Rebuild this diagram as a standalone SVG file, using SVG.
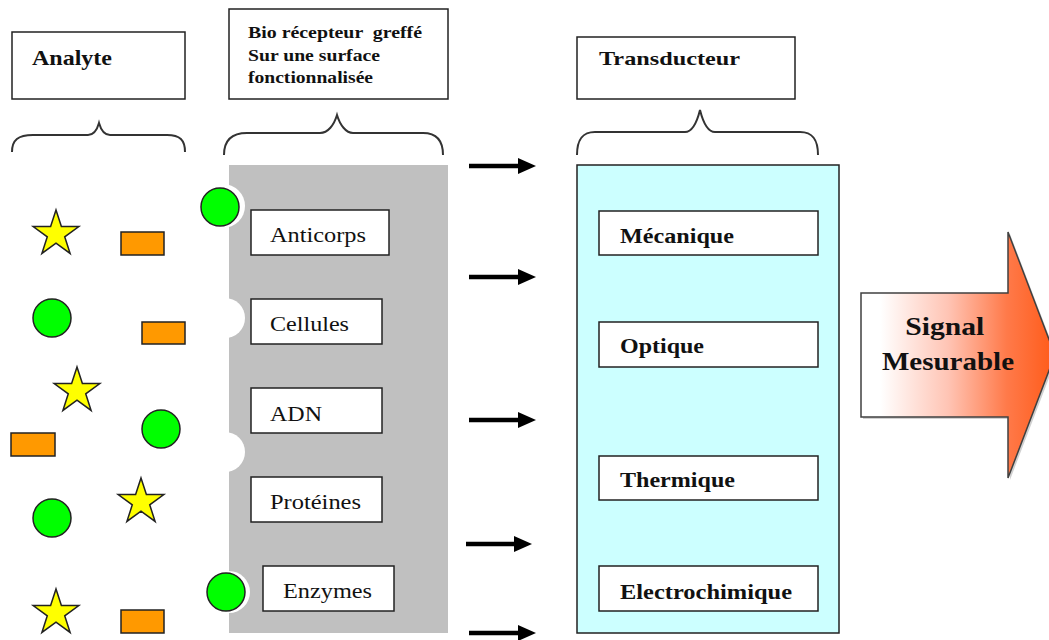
<svg xmlns="http://www.w3.org/2000/svg" width="1049" height="640" viewBox="0 0 1049 640">
<style>
.box{fill:#fff;stroke:#222;stroke-width:1.5}
.brace{fill:none;stroke:#333;stroke-width:2}
.hb{font-family:"Liberation Serif",serif;font-weight:bold;fill:#111}
.rg{font-family:"Liberation Serif",serif;fill:#111;font-size:22px}
.star{fill:#ffff00;stroke:#222;stroke-width:1.5}
.ball{fill:#00ff00;stroke:#222;stroke-width:1.5}
.brick{fill:#ff9900;stroke:#222;stroke-width:1.5}
.arr{stroke:#000;stroke-width:4.5;fill:none}
</style>
<defs>
<path id="star" d="M0,-24 L5.39,-7.42 L22.83,-7.42 L8.72,2.83 L14.11,19.42 L0,9.17 L-14.11,19.42 L-8.72,2.83 L-22.83,-7.42 L-5.39,-7.42 Z"/>
<marker id="ah" markerUnits="userSpaceOnUse" markerWidth="18" markerHeight="16" refX="2" refY="8" orient="auto">
<path d="M0,0 L18,8 L0,16 Z" fill="#000"/>
</marker>
<linearGradient id="sig" x1="861" y1="0" x2="1055" y2="0" gradientUnits="userSpaceOnUse">
<stop offset="0" stop-color="#ffffff"/>
<stop offset="0.1" stop-color="#ffffff"/>
<stop offset="0.45" stop-color="#ffc4b4"/>
<stop offset="0.75" stop-color="#ff7a4a"/>
<stop offset="1" stop-color="#ff5a18"/>
</linearGradient>
</defs>
<rect width="1049" height="640" fill="#fff"/>

<g id="analyte">
<rect class="box" x="12" y="32" width="173" height="67"/>
<text class="hb" x="32" y="65" font-size="21" textLength="80" lengthAdjust="spacingAndGlyphs">Analyte</text>
<path class="brace" d="M12,152 C12,140 18,135 33,135 L88,135 C94,135 97,130 99,123 C101,130 104,135 110,135 L167,135 C180,135 185,140 185,152"/>
</g>

<g id="bio-header">
<rect class="box" x="229" y="9" width="219" height="90"/>
<text class="hb" font-size="16" style="white-space:pre">
<tspan x="248" y="38" textLength="174" lengthAdjust="spacingAndGlyphs">Bio récepteur  greffé</tspan>
<tspan x="248" y="61" textLength="132" lengthAdjust="spacingAndGlyphs">Sur une surface</tspan>
<tspan x="248" y="83" textLength="125" lengthAdjust="spacingAndGlyphs">fonctionnalisée</tspan>
</text>
<path class="brace" d="M224,155 C224,140 232,133 247,133 L320,133 C328,133 334,125 337,115 C340,125 346,133 353,133 L423,133 C436,133 443,140 443,155"/>
</g>

<g id="analytes">
<use href="#star" class="star" x="56" y="234"/>
<rect class="brick" x="121" y="232" width="43" height="23"/>
<circle class="ball" cx="52" cy="318" r="19"/>
<rect class="brick" x="142" y="322" width="43" height="22"/>
<use href="#star" class="star" x="77" y="391"/>
<rect class="brick" x="11" y="433" width="44" height="23"/>
<circle class="ball" cx="161" cy="429" r="19"/>
<circle class="ball" cx="52" cy="518" r="19"/>
<use href="#star" class="star" x="141" y="502"/>
<use href="#star" class="star" x="56" y="613"/>
<rect class="brick" x="121" y="610" width="43" height="23"/>
</g>

<g id="bio-panel">
<rect x="229" y="165" width="219" height="468" fill="#c0c0c0"/>
<circle cx="223" cy="206" r="22" fill="#fff"/>
<circle cx="225" cy="318" r="20" fill="#fff"/>
<circle cx="225" cy="452" r="20" fill="#fff"/>
<circle cx="229" cy="592" r="21" fill="#fff"/>
<circle class="ball" cx="220" cy="207" r="19"/>
<circle class="ball" cx="226" cy="592" r="19"/>
</g>

<g id="anticorps">
<rect class="box" x="251" y="210" width="138" height="45"/>
<text class="rg" x="270" y="242" textLength="96" lengthAdjust="spacingAndGlyphs">Anticorps</text>
</g>
<g id="cellules">
<rect class="box" x="251" y="299" width="131" height="45"/>
<text class="rg" x="270" y="331" textLength="79" lengthAdjust="spacingAndGlyphs">Cellules</text>
</g>
<g id="adn">
<rect class="box" x="251" y="388" width="131" height="45"/>
<text class="rg" x="270" y="421" textLength="52" lengthAdjust="spacingAndGlyphs">ADN</text>
</g>
<g id="proteines">
<rect class="box" x="251" y="477" width="131" height="45"/>
<text class="rg" x="270" y="509" textLength="91" lengthAdjust="spacingAndGlyphs">Protéines</text>
</g>
<g id="enzymes">
<rect class="box" x="263" y="566" width="131" height="45"/>
<text class="rg" x="283" y="598" textLength="89" lengthAdjust="spacingAndGlyphs">Enzymes</text>
</g>

<g id="transducteur-header">
<rect class="box" x="577" y="37" width="218" height="62"/>
<text class="hb" x="599" y="65" font-size="19" textLength="141" lengthAdjust="spacingAndGlyphs">Transducteur</text>
<path class="brace" d="M577,155 C577,140 582,132 595,132 L685,132 C692,132 697,122 700,110 C703,122 708,132 715,132 L800,132 C813,132 818,140 818,155"/>
</g>

<g id="transducteur-panel">
<rect x="577" y="165" width="262" height="468" fill="#ccffff" stroke="#222" stroke-width="1.5"/>
</g>
<g id="mecanique">
<rect class="box" x="599" y="211" width="219" height="44"/>
<text class="hb" x="620" y="243" font-size="20" textLength="114" lengthAdjust="spacingAndGlyphs">Mécanique</text>
</g>
<g id="optique">
<rect class="box" x="599" y="322" width="219" height="45"/>
<text class="hb" x="620" y="353" font-size="20" textLength="84" lengthAdjust="spacingAndGlyphs">Optique</text>
</g>
<g id="thermique">
<rect class="box" x="599" y="456" width="219" height="44"/>
<text class="hb" x="620" y="487" font-size="20" textLength="115" lengthAdjust="spacingAndGlyphs">Thermique</text>
</g>
<g id="electrochimique">
<rect class="box" x="599" y="566" width="219" height="45"/>
<text class="hb" x="620" y="599" font-size="20" textLength="172" lengthAdjust="spacingAndGlyphs">Electrochimique</text>
</g>

<g id="signal">
<path d="M863,295 L1010,295 L1010,234 L1057,357 L1010,480 L1010,419 L863,419 Z" fill="#b0b0b0" opacity="0.6"/>
<path d="M861,293 L1008,293 L1008,232 L1055,355 L1008,478 L1008,417 L861,417 Z" fill="url(#sig)" stroke="#404040" stroke-width="1.5"/>
<text class="hb" font-size="26" text-anchor="middle">
<tspan x="948" y="335" textLength="79" lengthAdjust="spacingAndGlyphs">Signal</tspan>
<tspan x="948" y="370" textLength="132" lengthAdjust="spacingAndGlyphs">Mesurable</tspan>
</text>
</g>

<g id="connectors">
<path class="arr" d="M469,166 L520,166" marker-end="url(#ah)"/>
<path class="arr" d="M469,277 L520,277" marker-end="url(#ah)"/>
<path class="arr" d="M469,420 L520,420" marker-end="url(#ah)"/>
<path class="arr" d="M466,544 L516,544" marker-end="url(#ah)"/>
<path class="arr" d="M469,633 L520,633" marker-end="url(#ah)"/>
</g>
</svg>
